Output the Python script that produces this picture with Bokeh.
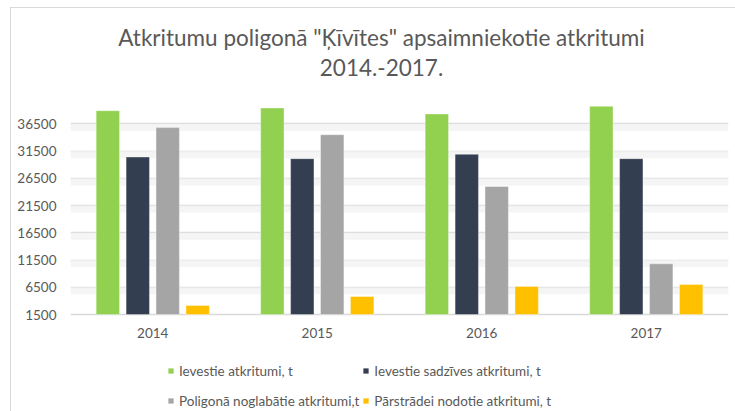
from bokeh.plotting import figure
from bokeh.models import ColumnDataSource, FixedTicker, Range1d, FactorRange, Legend, LegendItem, Label, BoxAnnotation
from bokeh.transform import dodge
from bokeh.embed import file_html
from bokeh.resources import INLINE

years = ["2014", "2015", "2016", "2017"]
ievestie = [38900, 39400, 38300, 39700]
sadzives = [30400, 30100, 30900, 30100]
noglabatie = [35800, 34500, 25000, 10800]
parstradei = [3150, 4800, 6650, 7000]
series_names = ["Ievestie atkritumi, t", "Ievestie sadzīves atkritumi, t",
                "Poligonā noglabātie atkritumi,t", "Pārstrādei nodotie atkritumi, t"]
colors = ["#92D050", "#333F50", "#A5A5A5", "#FFC000"]
y_ticks = [1500, 6500, 11500, 16500, 21500, 26500, 31500, 36500]
title_lines = ["Atkritumu poligonā \"Ķīvītes\" apsaimniekotie atkritumi", "2014.-2017."]

FONT = "Lato"
TXT = "#595959"

src = ColumnDataSource(dict(year=years, a=ievestie, b=sadzives, c=noglabatie, d=parstradei))

# frame covers the full canvas height; value 1500 sits 314px from the top
p = figure(width=735, height=411, output_backend="svg", toolbar_location=None,
           x_range=FactorRange(*years, range_padding=0), y_range=Range1d(-16303, 59132),
           min_border_left=70, min_border_right=7, min_border_top=0, min_border_bottom=0)
p.outline_line_color = None
p.background_fill_color = None
p.border_fill_color = None
p.styles = {"background": "linear-gradient(#d9d9d9,#d9d9d9) 10px 7px / 1px 404px no-repeat, "
                          "linear-gradient(#d9d9d9,#d9d9d9) 10px 7px / 725px 1px no-repeat, white"}

# soft shadow below gridlines
for t in y_ticks[1:]:
    p.add_layout(BoxAnnotation(bottom=t - 1300, top=t, fill_color="#f2f2f2", fill_alpha=0.8,
                               line_color=None, level="underlay"))

offsets = [-0.273, -0.091, 0.091, 0.273]
renderers = []
for key, off, col in zip(["a", "b", "c", "d"], offsets, colors):
    r = p.vbar(x=dodge("year", off, range=p.x_range), top=key, bottom=y_ticks[0], width=0.142,
               source=src, fill_color=col, line_color="white", line_alpha=0.35, line_width=1)
    renderers.append(r)

p.yaxis.ticker = FixedTicker(ticks=y_ticks)
p.ygrid.ticker = FixedTicker(ticks=y_ticks)
p.ygrid.grid_line_color = "#d9d9d9"
p.ygrid.grid_line_width = 1.5
p.xgrid.grid_line_color = None
p.xaxis.fixed_location = y_ticks[0]
for ax in (p.xaxis, p.yaxis):
    ax.axis_line_color = None
    ax.major_tick_line_color = None
    ax.minor_tick_line_color = None
    ax.major_tick_out = 0
    ax.major_tick_in = 0
    ax.major_label_text_font = FONT
    ax.major_label_text_font_size = "13.5px"
    ax.major_label_text_color = TXT
p.yaxis.major_label_standoff = 14
p.xaxis.major_label_standoff = 13

legend = Legend(items=[LegendItem(label=n, renderers=[r]) for n, r in zip(series_names, renderers)],
                location=(97, -3), orientation="horizontal", ncols=2,
                glyph_width=7, glyph_height=7, label_standoff=5, spacing=3,
                label_height=27, label_text_font=FONT, label_text_font_size="13.5px",
                label_text_color=TXT, padding=0, margin=0, border_line_color=None,
                background_fill_alpha=0)
p.add_layout(legend, "center")

for txt, yy in zip(title_lines, [411 - 37, 411 - 67]):
    p.add_layout(Label(x=311, y=yy, x_units="screen", y_units="screen", text=txt,
                       text_align="center", text_baseline="alphabetic", text_font=FONT,
                       text_font_size="22.5px", text_color=TXT))

open("out.html", "w").write(file_html(p, INLINE))
